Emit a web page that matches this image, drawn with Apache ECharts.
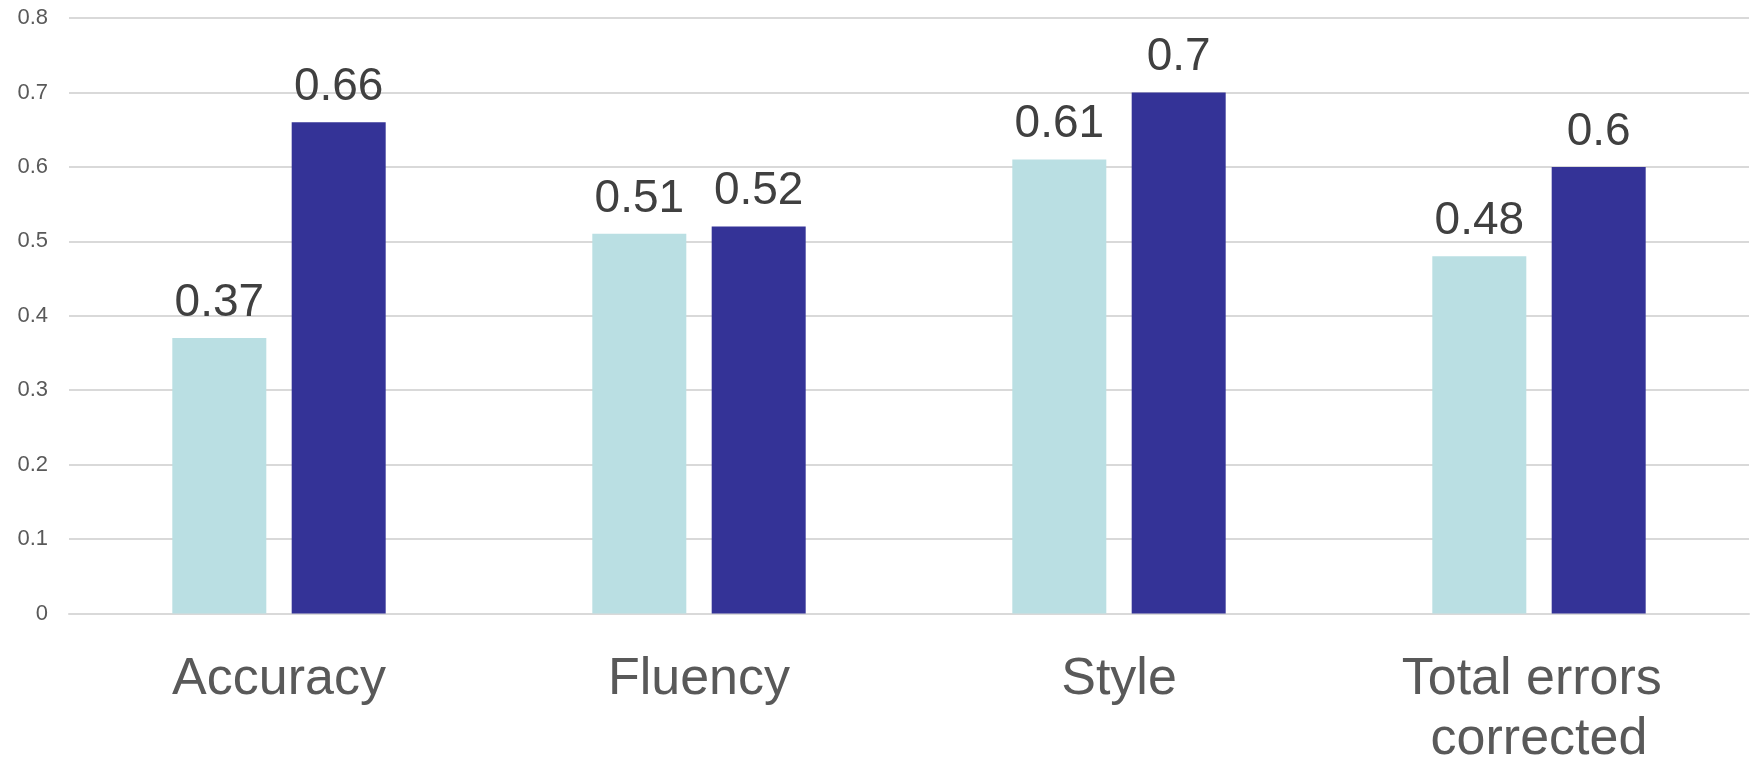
<!DOCTYPE html>
<html>
<head>
<meta charset="utf-8">
<script src="https://cdn.jsdelivr.net/npm/echarts@6/dist/echarts.min.js"></script>
<style>
  html, body { margin: 0; padding: 0; background: #ffffff; }
  #chart { width: 1752px; height: 760px; }
</style>
</head>
<body>
<div id="chart"></div>
<script>
// Scores per evaluation criterion, two systems side by side
const categories = ['Accuracy', 'Fluency', 'Style', 'Total errors corrected'];
const seriesA = [0.37, 0.51, 0.61, 0.48];
const seriesB = [0.66, 0.52, 0.7, 0.6];
const yTicks = { min: 0, max: 0.8, interval: 0.1 };

const FONT = '"Liberation Sans", Arial, sans-serif';

const valueLabel = {
  show: true,
  position: 'top',
  distance: 12,
  color: '#404040',
  fontFamily: FONT,
  fontSize: 46
};

const chart = echarts.init(document.getElementById('chart'), null, { renderer: 'canvas' });
chart.setOption({
  backgroundColor: '#ffffff',
  animation: false,
  grid: {
    left: 69, right: 3, top: 18, bottom: 146.5,
    containLabel: false,
    outerBoundsMode: 'none'
  },
  xAxis: {
    type: 'category',
    data: categories,
    axisLine: { show: true, lineStyle: { color: '#D9D9D9', width: 2 } },
    axisTick: { show: false },
    axisLabel: {
      color: '#595959',
      fontFamily: FONT,
      fontSize: 52,
      lineHeight: 60,
      margin: 36,
      width: 320,
      overflow: 'break',
      interval: 0
    }
  },
  yAxis: {
    type: 'value',
    min: yTicks.min,
    max: yTicks.max,
    interval: yTicks.interval,
    axisLine: { show: false },
    axisTick: { show: false },
    splitLine: { lineStyle: { color: '#D9D9D9', width: 2 } },
    axisLabel: {
      color: '#595959',
      fontFamily: FONT,
      fontSize: 22,
      margin: 21,
      formatter: v => String(Math.round(v * 10) / 10)
    }
  },
  series: [
    {
      type: 'bar',
      data: seriesA,
      barWidth: 94,
      barGap: '27%',
      itemStyle: { color: '#BADFE3' },
      label: valueLabel
    },
    {
      type: 'bar',
      data: seriesB,
      barWidth: 94,
      itemStyle: { color: '#343397' },
      label: valueLabel
    }
  ]
});
</script>
</body>
</html>
